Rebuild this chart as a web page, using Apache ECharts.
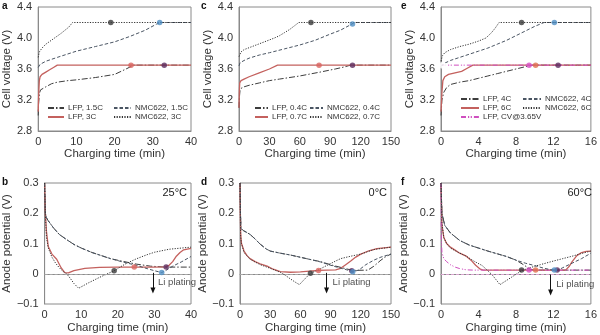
<!DOCTYPE html>
<html><head><meta charset="utf-8">
<script src="https://cdn.jsdelivr.net/npm/echarts@6/dist/echarts.min.js"></script>
<style>html,body{margin:0;padding:0;background:#fff}#c{width:600px;height:335px}</style>
</head><body><div id="c"></div>
<script>
// ---------- tick labels / axis ranges ----------
const voltTicks = [2.8, 3.2, 3.6, 4.0, 4.4];
const anodeTicks = [-0.1, 0, 0.1, 0.2, 0.3];
const timeMax = [40, 150, 16];
const timeStep = [10, 30, 4];

// ---------- legend names ----------
const namesA = ["LFP, 1.5C", "LFP, 3C", "NMC622, 1.5C", "NMC622, 3C"];
const namesC = ["LFP, 0.4C", "LFP, 0.7C", "NMC622, 0.4C", "NMC622, 0.7C"];
const namesE = ["LFP, 4C", "LFP, 6C", "LFP, CV@3.65V", "NMC622, 4C", "NMC622, 6C"];

// ---------- panel a : cell voltage, 25°C ----------
const a_lfpLo = [[0,3.0],[0.1,3.15],[0.3,3.28],[0.6,3.33],[1,3.35],[2,3.37],[3.5,3.41],[5,3.43],[7.8,3.45],[10,3.46],[15,3.49],[20,3.53],[23,3.6],[25,3.65],[40,3.65]];
const a_lfpHi = [[0,3.05],[0.15,3.3],[0.3,3.45],[0.5,3.5],[1,3.53],[2,3.56],[3,3.59],[4,3.62],[5,3.65],[40,3.65]];
const a_nmcLo = [[0,3.62],[0.5,3.66],[2,3.7],[5,3.75],[10,3.83],[15,3.89],[20,3.95],[24,4.02],[28,4.1],[31,4.18],[32,4.2],[40,4.2]];
const a_nmcHi = [[0,3.75],[0.3,3.82],[1,3.87],[2,3.92],[4,3.99],[6,4.06],[8,4.14],[9,4.2],[40,4.2]];
const a_marks = [[33,3.65],[24.3,3.65],[31.8,4.2],[19,4.2]];

// ---------- panel b : anode potential, 25°C ----------
const b_lfpLo = [[0,0.3],[0.2,0.2],[0.5,0.185],[1,0.175],[2.4,0.152],[4,0.13],[6,0.113],[8,0.097],[10,0.085],[13,0.07],[15.5,0.06],[18,0.05],[21,0.042],[25,0.032],[29,0.025],[33,0.022],[40,0.022]];
const b_lfpHi = [[0,0.3],[0.2,0.2],[0.5,0.14],[1,0.09],[2,0.065],[3.3,0.048],[4.5,0.02],[5.5,0.004],[6.5,0.003],[8,0.01],[11,0.018],[15,0.021],[20,0.022],[30,0.022],[33,0.023],[34,0.028],[35,0.04],[36,0.058],[37,0.07],[38,0.079],[40,0.084]];
const b_nmcLo = [[0,0.3],[0.2,0.2],[0.5,0.185],[1,0.175],[2.4,0.152],[4,0.13],[6,0.113],[8,0.097],[10,0.085],[13,0.07],[15.5,0.06],[18,0.05],[21,0.04],[25,0.028],[28,0.017],[30,0.01],[32,0.004],[33,0.01],[35,0.025],[37.5,0.04],[40,0.057]];
const b_nmcHi = [[0,0.3],[0.2,0.2],[0.5,0.12],[1,0.085],[2,0.055],[3,0.035],[4,0.02],[5,0.008],[6,0.0],[7,-0.015],[8,-0.032],[9.3,-0.048],[12,-0.03],[15,-0.012],[17,-0.001],[19,0.01],[22,0.032],[25,0.049],[28,0.063],[30,0.071],[34,0.081],[40,0.088]];
const b_marks = [[33.2,0.022],[24.5,0.022],[32,0.004],[19,0.01]];
const b_arrow = [[29.6,0.003],[29.6,-0.055]];
const b_text = [31,-0.03];

// ---------- panel c : cell voltage, 0°C ----------
const c_lfpLo = [[0,3.1],[0.5,3.25],[1,3.32],[2,3.35],[5,3.37],[10,3.39],[20,3.42],[30,3.45],[40,3.47],[60,3.51],[80,3.56],[95,3.6],[105,3.63],[110,3.65],[150,3.65]];
const c_lfpHi = [[0,3.1],[0.3,3.3],[0.7,3.42],[2,3.45],[5,3.47],[10,3.5],[20,3.55],[30,3.6],[38,3.65],[150,3.65]];
const c_nmcLo = [[0,3.64],[1,3.68],[5,3.71],[10,3.74],[20,3.78],[30,3.81],[45,3.86],[60,3.91],[75,3.97],[90,4.05],[100,4.1],[110,4.17],[114,4.2],[150,4.2]];
const c_nmcHi = [[0,3.76],[2,3.82],[5,3.85],[15,3.9],[27,3.96],[35,4.0],[40,4.03],[45,4.07],[50,4.11],[55,4.16],[59,4.2],[150,4.2]];
const c_marks = [[112,3.65],[79,3.65],[112,4.18],[71,4.2]];

// ---------- panel d : anode potential, 0°C ----------
const d_lfpLo = [[0,0.3],[0.5,0.2],[1,0.15],[3,0.143],[6,0.138],[10,0.13],[15,0.115],[20,0.098],[26,0.082],[30,0.075],[40,0.068],[50,0.062],[66,0.05],[80,0.04],[93,0.027],[106,0.016],[112,0.011],[127,0.012],[133,0.025],[140,0.045],[145,0.057],[150,0.065]];
const d_lfpHi = [[0,0.3],[0.3,0.2],[0.7,0.13],[1.5,0.1],[4,0.075],[7,0.06],[10,0.05],[15,0.04],[20,0.033],[27,0.025],[33,0.015],[40,0.007],[50,0.005],[60,0.006],[78,0.011],[95,0.013],[100,0.018],[105,0.03],[110,0.042],[115,0.055],[120,0.065],[128,0.076],[136,0.083],[150,0.088]];
const d_nmcLo = [[0,0.3],[0.5,0.2],[1,0.15],[3,0.143],[6,0.138],[10,0.13],[15,0.115],[20,0.098],[26,0.082],[30,0.075],[40,0.068],[50,0.062],[66,0.05],[80,0.039],[93,0.025],[106,0.013],[112,0.007],[118,0.012],[125,0.03],[133,0.045],[140,0.055],[150,0.065]];
const d_nmcHi = [[0,0.3],[0.3,0.2],[0.7,0.12],[1.5,0.1],[4,0.07],[10,0.048],[20,0.03],[30,0.018],[40,0.005],[45,-0.005],[50,-0.017],[55,-0.028],[59,-0.036],[63,-0.022],[67,-0.008],[71,0.003],[78,0.013],[86,0.027],[95,0.042],[100,0.05],[110,0.058],[120,0.065],[133,0.08],[150,0.088]];
const d_marks = [[111,0.01],[78,0.011],[112,0.007],[70,0.002]];
const d_arrow = [[86,0.003],[86,-0.055]];
const d_text = [92,-0.03];

// ---------- panel e : cell voltage, 60°C ----------
const e_lfpLo = [[0,3.0],[0.1,3.2],[0.3,3.3],[0.6,3.36],[1,3.4],[2,3.43],[3,3.45],[4,3.48],[5,3.51],[6,3.54],[7,3.57],[8,3.6],[9,3.63],[9.8,3.65],[16,3.65]];
const e_lfpHi = [[0,3.05],[0.1,3.3],[0.2,3.45],[0.4,3.5],[0.8,3.53],[1.5,3.55],[2.2,3.57],[2.8,3.61],[3.4,3.65],[16,3.65]];
const e_cv = [[0,3.65],[16,3.65]];
const e_nmcLo = [[0,3.63],[0.3,3.67],[1,3.71],[2,3.75],[3,3.79],[4,3.83],[5,3.87],[6,3.92],[7,3.97],[8,4.03],[9,4.09],[10,4.15],[11,4.2],[16,4.2]];
const e_nmcHi = [[0,3.7],[0.15,3.77],[0.4,3.81],[1,3.85],[2,3.89],[3,3.92],[4,3.96],[4.8,4.0],[5.4,4.07],[5.8,4.13],[6.2,4.2],[16,4.2]];
const e_marks = [[12.5,3.65],[10.1,3.65],[9.4,3.65],[12.1,4.2],[8.6,4.2]];
const e_open = [[0.2,3.65]];

// ---------- panel f : anode potential, 60°C ----------
const f_lfpLo = [[0,0.3],[0.1,0.2],[0.4,0.16],[1,0.135],[2,0.11],[3,0.095],[4,0.085],[5,0.075],[6,0.066],[7,0.057],[8,0.045],[8.8,0.03],[9.5,0.015],[10,0.012],[16,0.012]];
const f_lfpHi = [[0,0.3],[0.1,0.16],[0.3,0.12],[0.6,0.1],[1,0.088],[1.5,0.078],[2,0.068],[2.7,0.058],[3.2,0.045],[3.7,0.028],[4.2,0.015],[4.5,0.012],[13.3,0.012],[13.7,0.025],[14,0.04],[14.5,0.06],[15,0.07],[15.5,0.074],[16,0.075]];
const f_cv = [[0,0.3],[0.03,0.12],[0.1,0.07],[0.3,0.05],[0.6,0.04],[1,0.03],[1.5,0.022],[2,0.017],[2.7,0.013],[3.5,0.012],[16,0.012]];
const f_nmcLo = [[0,0.3],[0.1,0.2],[0.4,0.16],[1,0.135],[2,0.11],[3,0.095],[4,0.085],[5,0.075],[6,0.066],[7,0.057],[8,0.045],[9,0.035],[10,0.027],[11,0.018],[12,0.012],[12.5,0.012],[13,0.02],[14,0.035],[15,0.05],[16,0.068]];
const f_nmcHi = [[0,0.3],[0.1,0.17],[0.3,0.12],[0.6,0.1],[1,0.085],[2,0.068],[2.7,0.058],[3.5,0.042],[4.4,0.027],[5,0.01],[5.5,-0.005],[6.3,-0.036],[7,-0.022],[7.5,-0.012],[8.6,0.01],[9.5,0.02],[10.6,0.03],[12,0.042],[13,0.05],[14,0.058],[15,0.067],[16,0.075]];
const f_marks = [[12.4,0.012],[10.1,0.012],[9.4,0.012],[12.1,0.012],[8.6,0.012]];
const f_arrow = [[11.7,-0.003],[11.7,-0.062]];
const f_text = [12.3,-0.034];

const temps = ["25°C", "0°C", "60°C"];

// ---------- styles ----------
const FONT = "Liberation Sans, Arial, sans-serif";
const TXT = '#333';
const ST = {
  lfpLo: {color:'#3d3d3d', type:[6,2,1.5,2], width:1},
  lfpHi: {color:'#c4615e', type:'solid', width:1.3},
  cv:    {color:'#cf4fbf', type:[5,2,1.2,1.5,1.2,2], width:1},
  nmcLo: {color:'#4a5563', type:[3.5,2], width:1},
  nmcHi: {color:'#333', type:[1.2,1.4], width:1}
};
const MK4 = ['#5b2a5e','#d9645f','#4f8fc4','#3a3a3a'];
const MK5 = ['#5b2a5e','#e0704f','#d64fc4','#4f8fc4','#3a3a3a'];

const grids = [
  {left:37, top:7, width:154, height:124},
  {left:239, top:7, width:152, height:124},
  {left:441, top:7, width:155, height:124},
  {left:37, top:183, width:154, height:123},
  {left:240, top:183, width:151, height:123},
  {left:441, top:183, width:155, height:123}
].map(g => Object.assign(g, {show:true, borderColor:'#8a8a8a', borderWidth:1, backgroundColor:'transparent'}));

const xAxes = [], yAxes = [];
for (let i = 0; i < 6; i++) {
  const col = i % 3, top = i < 3;
  xAxes.push({gridIndex:i, type:'value', min:0, max:timeMax[col], interval:timeStep[col],
    axisLine:{show:true, lineStyle:{color:'#8a8a8a'}}, axisTick:{show:false}, splitLine:{show:false},
    axisLabel:{fontSize:11, color:TXT, fontFamily:FONT, margin:5},
    name:'Charging time (min)', nameLocation:'middle', nameGap: top ? 17 : 18,
    nameTextStyle:{fontSize:11.5, color:TXT, fontFamily:FONT}});
  const ticks = top ? voltTicks : anodeTicks;
  yAxes.push({gridIndex:i, type:'value', min:ticks[0], max:ticks[ticks.length-1], interval: top ? 0.4 : 0.1,
    axisLine:{show:true, lineStyle:{color:'#8a8a8a'}}, axisTick:{show:false}, splitLine:{show:false},
    axisLabel:{fontSize:11, color:TXT, fontFamily:FONT, margin:6,
      formatter: v => top ? v.toFixed(1) : (Math.abs(v) < 1e-9 ? '0' : (v < 0 ? '\u2212' + Math.abs(v).toFixed(1) : v.toFixed(1)))},
    name: top ? 'Cell voltage (V)' : 'Anode potential (V)', nameLocation:'middle', nameGap:21,
    nameTextStyle:{fontSize:11.5, color:TXT, fontFamily:FONT}});
}

const series = [];
function line(gi, name, data, st) {
  series.push({type:'line', name, xAxisIndex:gi, yAxisIndex:gi, data, symbol:'none', showSymbol:false,
    lineStyle:{color:st.color, type:st.type, width:st.width}, itemStyle:{color:st.color},
    animation:false, silent:true, z:3});
}
function marks(gi, data, colors) {
  series.push({type:'scatter', xAxisIndex:gi, yAxisIndex:gi, symbolSize:5.5, animation:false, silent:true, z:5,
    data: data.map((p,k) => ({value:p, itemStyle:{color:colors[k]}}))});
}
function plating(gi, arrow, text, zeroColor) {
  series.push({type:'scatter', xAxisIndex:gi, yAxisIndex:gi, symbolSize:0, animation:false, silent:true, z:4,
    data:[{value:text, label:{show:true, position:'right', distance:0, formatter:'Li plating', fontSize:9.5, color:'#222', fontFamily:FONT}}],
    markLine:{silent:true, animation:false, symbol:['none','none'], label:{show:false},
      data:[
        {yAxis:0, lineStyle:{color:zeroColor, type:[3,2], width:1}},
        [{coord:arrow[0], symbol:'none', lineStyle:{color:'#111', type:'solid', width:1}},
         {coord:arrow[1], symbol:'triangle', symbolSize:[5,6], symbolRotate:180}]
      ]}});
}

// panel a (grid 0) & b (grid 3)
line(0, namesA[0], a_lfpLo, ST.lfpLo); line(0, namesA[1], a_lfpHi, ST.lfpHi);
line(0, namesA[2], a_nmcLo, ST.nmcLo); line(0, namesA[3], a_nmcHi, ST.nmcHi);
marks(0, a_marks, MK4);
plating(3, b_arrow, b_text, '#a8a8a8');
line(3, namesA[0], b_lfpLo, ST.lfpLo); line(3, namesA[1], b_lfpHi, ST.lfpHi);
line(3, namesA[2], b_nmcLo, ST.nmcLo); line(3, namesA[3], b_nmcHi, ST.nmcHi);
marks(3, b_marks, MK4);
// panel c (grid 1) & d (grid 4)
line(1, namesC[0], c_lfpLo, ST.lfpLo); line(1, namesC[1], c_lfpHi, ST.lfpHi);
line(1, namesC[2], c_nmcLo, ST.nmcLo); line(1, namesC[3], c_nmcHi, ST.nmcHi);
marks(1, c_marks, MK4);
plating(4, d_arrow, d_text, '#a8a8a8');
line(4, namesC[0], d_lfpLo, ST.lfpLo); line(4, namesC[1], d_lfpHi, ST.lfpHi);
line(4, namesC[2], d_nmcLo, ST.nmcLo); line(4, namesC[3], d_nmcHi, ST.nmcHi);
marks(4, d_marks, MK4);
// panel e (grid 2) & f (grid 5)
line(2, namesE[0], e_lfpLo, ST.lfpLo); line(2, namesE[1], e_lfpHi, ST.lfpHi);
line(2, namesE[2], e_cv, ST.cv);
line(2, namesE[3], e_nmcLo, ST.nmcLo); line(2, namesE[4], e_nmcHi, ST.nmcHi);
marks(2, e_marks, MK5);
series.push({type:'scatter', xAxisIndex:2, yAxisIndex:2, data:e_open, symbol:'emptyCircle', symbolSize:5,
  itemStyle:{color:'#fff', borderColor:'#999', borderWidth:1}, animation:false, silent:true, z:4});
plating(5, f_arrow, f_text, '#d9a3cf');
line(5, namesE[0], f_lfpLo, ST.lfpLo); line(5, namesE[1], f_lfpHi, ST.lfpHi);
line(5, namesE[2], f_cv, ST.cv);
line(5, namesE[3], f_nmcLo, ST.nmcLo); line(5, namesE[4], f_nmcHi, ST.nmcHi);
marks(5, f_marks, MK5);

function leg(left, top, w, data) {
  return {left, top, orient:'vertical', data, itemWidth:w, itemHeight:8, itemGap:1, padding:0,
    selectedMode:false, itemStyle:{opacity:0, borderWidth:0},
    textStyle:{fontSize:8, color:TXT, fontFamily:FONT, padding:[0,0,0,-1]}};
}
const legends = [
  leg(47, 104, 16, [namesA[0], namesA[1]]), leg(113, 104, 17, [namesA[2], namesA[3]]),
  leg(254, 104, 13, [namesC[0], namesC[1]]), leg(309, 104, 13, [namesC[2], namesC[3]]),
  leg(460, 95, 18, [namesE[0], namesE[1], namesE[2]]), leg(522, 95, 18, [namesE[3], namesE[4]])
];

const graphic = [];
[['a',2,1],['c',201,1],['e',401,1],['b',2,177],['d',201,177],['f',401,177]].forEach(([t,x,y]) =>
  graphic.push({type:'text', left:x, top:y, style:{text:t, font:'bold 10px ' + FONT, fill:'#111'}}));
[[temps[0],187,187],[temps[1],387,187],[temps[2],592,187]].forEach(([t,x,y]) =>
  graphic.push({type:'text', x:x, y:y, style:{text:t, align:'right', verticalAlign:'top', font:'11px ' + FONT, fill:'#222'}}));

const chart = echarts.init(document.getElementById('c'), null, {renderer:'canvas'});
chart.setOption({animation:false, grid:grids, xAxis:xAxes, yAxis:yAxes, series, legend:legends, graphic});
</script></body></html>
